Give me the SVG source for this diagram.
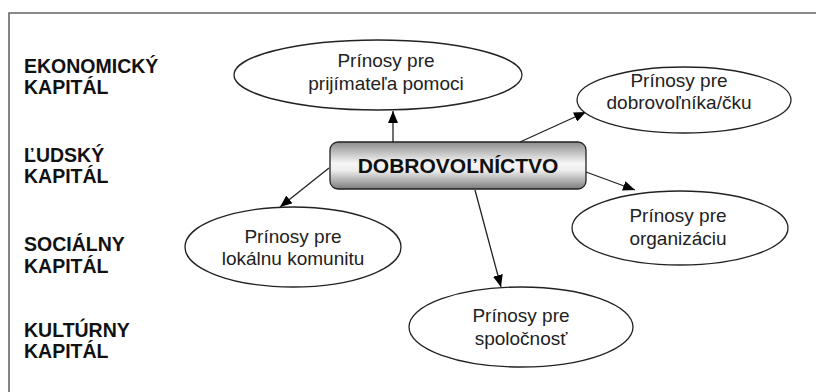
<svg xmlns="http://www.w3.org/2000/svg" width="816" height="392" viewBox="0 0 816 392">
  <style>
    .lbl { font-family: "Liberation Sans", Arial, sans-serif; font-weight: bold; font-size: 19.5px; fill: #111; }
    .et { font-family: "Liberation Sans", Arial, sans-serif; font-size: 19px; fill: #222; text-anchor: middle; }
    .ell { fill: #fff; stroke: #222; stroke-width: 1.3; }
    .con { stroke: #222; stroke-width: 1.3; fill: none; marker-end: url(#ah); }
    .frame { stroke: #666; stroke-width: 1.6; fill: none; }
  </style>
  <defs>
    <marker id="ah" viewBox="0 0 12 10" refX="12" refY="5" markerWidth="12" markerHeight="10" markerUnits="userSpaceOnUse" orient="auto">
      <path d="M0,0 L12,5 L0,10 Z" fill="#000"/>
    </marker>
    <linearGradient id="g" x1="0" y1="0" x2="0" y2="1">
      <stop offset="0" stop-color="#8c8c8c"/>
      <stop offset="0.45" stop-color="#f6f6f6"/>
      <stop offset="0.6" stop-color="#eeeeee"/>
      <stop offset="1" stop-color="#7c7c7c"/>
    </linearGradient>
  </defs>
  <rect width="816" height="392" fill="#fff"/>
  <path class="frame" d="M9,392 L9,13 L816,13"/>

  <g id="labels">
    <text class="lbl" x="24" y="73">EKONOMICKÝ</text>
    <text class="lbl" x="24" y="94">KAPITÁL</text>
    <text class="lbl" x="24" y="162">ĽUDSKÝ</text>
    <text class="lbl" x="24" y="183">KAPITÁL</text>
    <text class="lbl" x="24" y="251">SOCIÁLNY</text>
    <text class="lbl" x="24" y="273">KAPITÁL</text>
    <text class="lbl" x="24" y="337">KULTÚRNY</text>
    <text class="lbl" x="24" y="358">KAPITÁL</text>
  </g>

  <g id="connectors">
    <line class="con" x1="393" y1="142" x2="393" y2="111"/>
    <line class="con" x1="520" y1="142" x2="586" y2="112"/>
    <line class="con" x1="586" y1="172" x2="635" y2="190"/>
    <line class="con" x1="329" y1="168" x2="280" y2="207"/>
    <line class="con" x1="475" y1="190" x2="501" y2="287"/>
  </g>

  <g id="n-center">
    <rect x="330" y="142" width="256" height="47" rx="8" fill="url(#g)" stroke="#222" stroke-width="1.3"/>
    <text x="458" y="173" font-family="'Liberation Sans', Arial, sans-serif" font-weight="bold" font-size="21px" fill="#111" text-anchor="middle">DOBROVOĽNÍCTVO</text>
  </g>

  <g id="n-prijimatel">
    <ellipse class="ell" cx="378" cy="75" rx="144" ry="35"/>
    <text class="et" x="386" y="67">Prínosy pre</text>
    <text class="et" x="386" y="90">prijímateľa pomoci</text>
  </g>

  <g id="n-dobrovolnik">
    <ellipse class="ell" cx="684" cy="100" rx="107" ry="33"/>
    <text class="et" x="679" y="87">Prínosy pre</text>
    <text class="et" x="679" y="109">dobrovoľníka/čku</text>
  </g>

  <g id="n-organizacia">
    <ellipse class="ell" cx="680" cy="228" rx="108" ry="37"/>
    <text class="et" x="678" y="222">Prínosy pre</text>
    <text class="et" x="678" y="245">organizáciu</text>
  </g>

  <g id="n-komunita">
    <ellipse class="ell" cx="293" cy="247" rx="108" ry="40"/>
    <text class="et" x="293" y="243">Prínosy pre</text>
    <text class="et" x="293" y="265">lokálnu komunitu</text>
  </g>

  <g id="n-spolocnost">
    <ellipse class="ell" cx="521" cy="327" rx="112" ry="40"/>
    <text class="et" x="521" y="322">Prínosy pre</text>
    <text class="et" x="521" y="345">spoločnosť</text>
  </g>
</svg>
